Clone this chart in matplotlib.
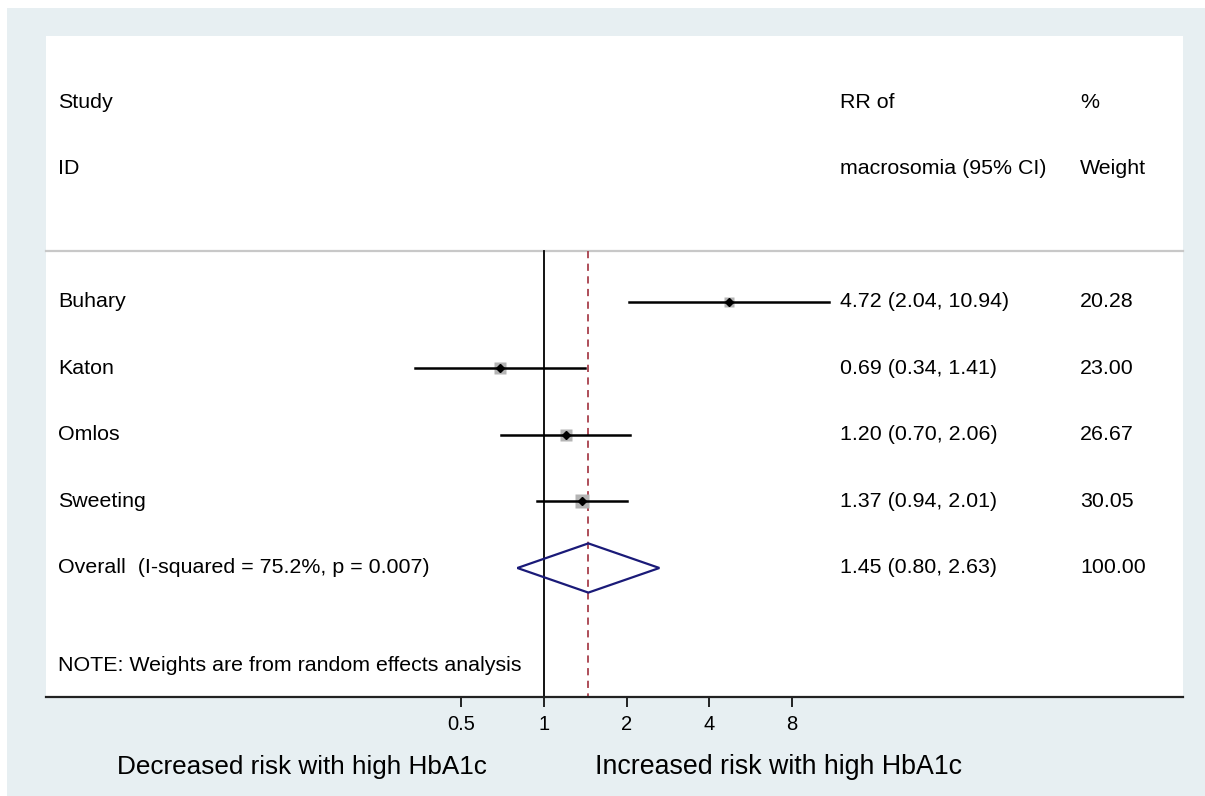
import numpy as np
import matplotlib.pyplot as plt
from matplotlib.patches import Rectangle, Polygon
import matplotlib.transforms as mtransforms

plt.rcParams['font.family'] = ['Liberation Sans', 'DejaVu Sans']

# data
studies = ['Buhary', 'Katon', 'Omlos', 'Sweeting']
rr = [4.72, 0.69, 1.20, 1.37]
lo = [2.04, 0.34, 0.70, 0.94]
hi = [10.94, 1.41, 2.06, 2.01]
weights = [20.28, 23.00, 26.67, 30.05]
overall = 1.45
overall_lo = 0.80
overall_hi = 2.63
overall_label = 'Overall  (I-squared = 75.2%, p = 0.007)'
note = 'NOTE: Weights are from random effects analysis'
ticks = [0.5, 1, 2, 4, 8]
tick_labels = ['0.5', '1', '2', '4', '8']

W, H = 1205, 796
fig = plt.figure(figsize=(W / 100, H / 100), dpi=100)
fig.patch.set_facecolor('white')
bgcol = '#e7eff2'
fig.patches.append(Rectangle((7 / W, 0), 1 - 7 / W, (H - 8) / H,
                             transform=fig.transFigure, facecolor=bgcol,
                             edgecolor='none', zorder=-10))

ax = fig.add_axes([46 / W, (H - 697) / H, 1137 / W, 661 / H])
ax.set_facecolor('white')
ax.set_xscale('log', base=2)
ax.set_xlim(2 ** ((46 - 544) / 82.7), 2 ** ((1183 - 544) / 82.7))
ax.set_ylim(9.94, 0)

for s in ['left', 'right', 'top']:
    ax.spines[s].set_visible(False)
ax.spines['bottom'].set_linewidth(1.6)
ax.spines['bottom'].set_color('#222222')
ax.set_yticks([])
ax.set_xticks(ticks)
ax.set_xticklabels(tick_labels)
ax.minorticks_off()
ax.tick_params(axis='x', direction='out', length=7, width=1.2, labelsize=14.5, pad=6)

tr = mtransforms.blended_transform_factory(ax.transAxes, ax.transData)
fs = 15.4
txt_x = (58 - 46) / 1137
rr_x = (840 - 46) / 1137
w_x = (1080 - 46) / 1137

# header
ax.text(txt_x, 1.0, 'Study', transform=tr, fontsize=fs, va='center')
ax.text(txt_x, 2.0, 'ID', transform=tr, fontsize=fs, va='center')
ax.text(rr_x, 1.0, 'RR of', transform=tr, fontsize=fs, va='center')
ax.text(rr_x, 2.0, 'macrosomia (95% CI)', transform=tr, fontsize=fs, va='center')
ax.text(w_x, 1.0, '%', transform=tr, fontsize=fs, va='center')
ax.text(w_x, 2.0, 'Weight', transform=tr, fontsize=fs, va='center')
ax.plot([0, 1], [3.23, 3.23], transform=tr, color='#c8c8c8', lw=1.6, clip_on=False)

# reference lines
ax.plot([1, 1], [3.23, 9.94], color='black', lw=1.3)
ax.plot([overall, overall], [3.23, 9.94], color='#a8404c', lw=1.3, ls=(0, (4, 3)))

rows = np.arange(len(studies)) + 4
for y, name, r, l, h, w in zip(rows, studies, rr, lo, hi, weights):
    ax.plot([l, h], [y, y], color='black', lw=1.8, zorder=3)
    side = 2.4 * np.sqrt(w) * 0.72
    ax.plot(r, y, marker='s', ms=side, color='#b4b4b4', mec='none', zorder=2)
    ax.plot(r, y, marker='D', ms=4.5, color='black', zorder=4)
    ax.text(txt_x, y, name, transform=tr, fontsize=fs, va='center')
    ax.text(rr_x, y, f'{r:.2f} ({l:.2f}, {h:.2f})', transform=tr, fontsize=fs, va='center')
    ax.text(w_x, y, f'{w:.2f}', transform=tr, fontsize=fs, va='center')

# overall diamond
oy = rows[-1] + 1
dia = Polygon([[overall_lo, oy], [overall, oy - 0.37], [overall_hi, oy], [overall, oy + 0.37]],
              closed=True, facecolor='none', edgecolor='#1a1a78', lw=1.6, zorder=5)
ax.add_patch(dia)
ax.text(txt_x, oy, overall_label, transform=tr, fontsize=fs, va='center')
ax.text(rr_x, oy, f'{overall:.2f} ({overall_lo:.2f}, {overall_hi:.2f})', transform=tr,
        fontsize=fs, va='center')
ax.text(w_x, oy, '100.00', transform=tr, fontsize=fs, va='center')
ax.text(txt_x, 9.47, note, transform=tr, fontsize=fs, va='center')

fig.text(302 / W, (H - 767) / H, 'Decreased risk with high HbA1c', fontsize=18.8,
         ha='center', va='center')
fig.text(595 / W, (H - 767) / H, 'Increased risk with high HbA1c', fontsize=19.3,
         ha='left', va='center')

fig.savefig('out.png', dpi=100, facecolor=fig.get_facecolor())
